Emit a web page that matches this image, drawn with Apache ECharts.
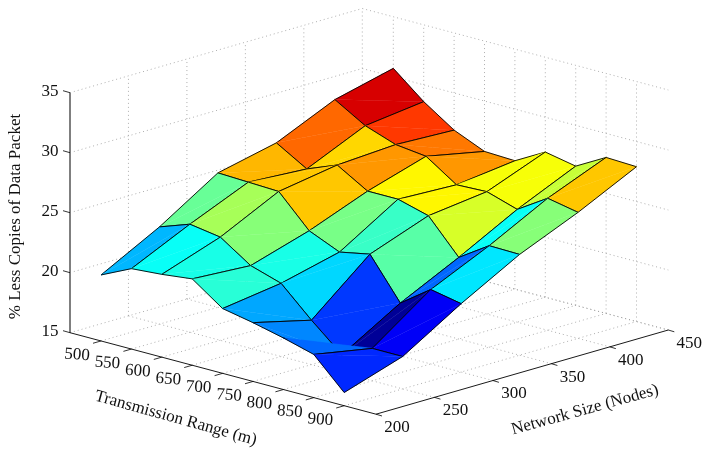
<!DOCTYPE html>
<html>
<head>
<meta charset="utf-8">
<style>html,body{margin:0;padding:0;background:#fff;overflow:hidden}#c{width:715px;height:452px}</style>
<script src="https://cdn.jsdelivr.net/npm/echarts@6/dist/echarts.min.js"></script>
</head>
<body>
<div id="c"></div>
<script>
// ---- data ----
const transmissionRange = [500, 550, 600, 650, 700, 750, 800, 850, 900];
const networkSize = [200, 250, 300, 350, 400, 450];
const zTicks = [15, 20, 25, 30, 35];
const nodes200 = [20.5, 21.7, 21.9, 22.2, 20.4, 19.9, 19.3, 18.6, 16.1];
const nodes250 = [23.1, 24.0, 23.6, 21.9, 21.1, 18.7, 16.5, 17.7, 17.7];
const nodes300 = [26.2, 26.1, 26.0, 23.4, 22.3, 22.8, 19.4, 21.2, 20.7];
const nodes350 = [27.3, 25.8, 26.8, 25.3, 25.3, 24.6, 21.8, 23.45, 23.4];
const nodes400 = [29.5, 28.0, 27.1, 26.8, 25.1, 25.2, 24.4, 26.0, 25.5];
const nodes450 = [30.7, 28.6, 26.9, 25.8, 25.7, 27.1, 26.6, 28.0, 27.9];
const xTitle = 'Transmission Range (m)';
const yTitle = 'Network Size (Nodes)';
const zTitle = '% Less Copies of Data Packet';

// ---- view: orthographic projection of the 3D box ----
const zRows = [nodes200, nodes250, nodes300, nodes350, nodes400, nodes450];
const box = {xMin: 449, xMax: 952.3, yMin: 200, yMax: 450, zMin: 15, zMax: 35};
const cornerLeft = [70, 332.7], cornerFront = [376, 414.2], cornerRight = [668.3, 330], zPxPerUnit = 12;
function project(x, y, z) {
  const u = (x - box.xMin) / (box.xMax - box.xMin), v = (y - box.yMin) / (box.yMax - box.yMin);
  return [
    cornerLeft[0] + u * (cornerFront[0] - cornerLeft[0]) + v * (cornerRight[0] - cornerFront[0]),
    cornerLeft[1] + u * (cornerFront[1] - cornerLeft[1]) + v * (cornerRight[1] - cornerFront[1]) - (z - box.zMin) * zPxPerUnit
  ];
}
// ---- jet colormap, 64 levels ----
const allZ = zRows.flat(), cMin = Math.min(...allZ), cMax = Math.max(...allZ);
function jet(z) {
  let t = (z - cMin) / (cMax - cMin);
  t = (Math.min(63, Math.floor(t * 64)) + 0.5) / 64;
  const ramp = (p) => Math.max(0, Math.min(1, 1.5 - Math.abs(4 * t - p)));
  return `rgb(${Math.round(255 * ramp(3))},${Math.round(255 * ramp(2))},${Math.round(255 * ramp(1))})`;
}
// ---- segments for grid and axes ----
const gridSegs = [], xT = transmissionRange, yT = networkSize, b = box;
xT.forEach(x => {
  gridSegs.push([x, b.yMin, b.zMin, x, b.yMax, b.zMin]);
  gridSegs.push([x, b.yMax, b.zMin, x, b.yMax, b.zMax]);
});
yT.forEach(y => {
  if (y !== b.yMin) gridSegs.push([b.xMin, y, b.zMin, b.xMax, y, b.zMin]);
  if (y !== b.yMin) gridSegs.push([b.xMin, y, b.zMin, b.xMin, y, b.zMax]);
});
zTicks.forEach(z => {
  gridSegs.push([b.xMin, b.yMin, z, b.xMin, b.yMax, z]);
  gridSegs.push([b.xMin, b.yMax, z, b.xMax, b.yMax, z]);
});
const faces = [];
for (let j = networkSize.length - 2; j >= 0; j--)
  for (let i = 0; i < transmissionRange.length - 1; i++) faces.push([i, j]);

const pt = (api, i, j) => api.coord(project(transmissionRange[i], networkSize[j], zRows[j][i]));
const edgeStyle = {stroke: '#000', lineWidth: 0.9, fill: null};
function renderFace(params, api) {
  const i = api.value(0), j = api.value(1);
  const a = pt(api, i, j), c = pt(api, i + 1, j), d = pt(api, i + 1, j + 1), e = pt(api, i, j + 1);
  const col = jet(zRows[j][i]);
  const fillStyle = {fill: col, stroke: col, lineWidth: 0.4};
  return {type: 'group', children: [
    {type: 'polygon', shape: {points: [a, d, e]}, style: fillStyle},
    {type: 'polyline', shape: {points: [d, e, a]}, style: edgeStyle},
    {type: 'polygon', shape: {points: [a, c, d]}, style: fillStyle},
    {type: 'polyline', shape: {points: [a, c, d]}, style: edgeStyle}
  ]};
}
function renderSeg(style) {
  return (params, api) => {
    const p = api.coord(project(api.value(0), api.value(1), api.value(2)));
    const q = api.coord(project(api.value(3), api.value(4), api.value(5)));
    return {type: 'line', shape: {x1: p[0], y1: p[1], x2: q[0], y2: q[1]}, style};
  };
}
const font = '"Liberation Serif", "Times New Roman", serif';
const tickFont = 17;
function renderTick(params, api) {
  const p = api.coord(project(api.value(0), api.value(1), api.value(2)));
  const kind = api.value(3);
  const mark = [[-8, 2.3], [6, 1.8], [-7, -2]][kind];
  const off = [[-24, 14], [21, 13.5], [-20, -1]][kind];
  const tilt = [-4, 0, 0][kind];
  return {type: 'group', children: [
    {type: 'line', shape: {x1: p[0], y1: p[1], x2: p[0] + mark[0], y2: p[1] + mark[1]}, style: {stroke: '#000', lineWidth: 0.8}},
    {type: 'text', x: p[0] + off[0], y: p[1] + off[1], rotation: tilt * Math.PI / 180,
     style: {text: String(tickData[params.dataIndex][4]), font: tickFont + 'px ' + font, fill: '#111', align: 'center', verticalAlign: 'middle'}}
  ]};
}
const tickData = [];
xT.forEach(x => tickData.push([x, b.yMin, b.zMin, 0, x]));
yT.forEach(y => tickData.push([b.xMax, y, b.zMin, 1, y]));
zTicks.forEach(z => tickData.push([b.xMin, b.yMin, z, 2, z]));

const titleData = [
  {text: xTitle, at: [175.8, 418.3], angle: -15.5},
  {text: yTitle, at: [585, 410], angle: 15.5},
  {text: zTitle, at: [16, 216.5], angle: 90}
];
function renderTitle(params, api) {
  const t = titleData[params.dataIndex], p = api.coord(t.at);
  return {type: 'text', x: p[0], y: p[1], rotation: t.angle * Math.PI / 180,
    style: {text: t.text, font: '17px ' + font, fill: '#111', align: 'center', verticalAlign: 'middle'}};
}
const chart = echarts.init(document.getElementById('c'));
chart.setOption({
  animation: false,
  backgroundColor: '#fff',
  grid: {left: 0, right: 0, top: 0, bottom: 0},
  xAxis: {type: 'value', min: 0, max: 715, show: false},
  yAxis: {type: 'value', min: 0, max: 452, inverse: true, show: false},
  series: [
    {type: 'custom', name: 'grid', coordinateSystem: 'cartesian2d', clip: false, silent: true, data: gridSegs,
     renderItem: renderSeg({stroke: '#9a9a9a', lineWidth: 0.8, lineDash: [1, 3]})},
    {type: 'custom', name: 'zAxis', coordinateSystem: 'cartesian2d', clip: false, silent: true,
     data: [[b.xMin, b.yMin, b.zMin, b.xMin, b.yMin, b.zMax]],
     renderItem: renderSeg({stroke: '#7f7f7f', lineWidth: 2})},
    {type: 'custom', name: 'floorAxes', coordinateSystem: 'cartesian2d', clip: false, silent: true,
     data: [[b.xMin, b.yMin, b.zMin, b.xMax, b.yMin, b.zMin], [b.xMax, b.yMin, b.zMin, b.xMax, b.yMax, b.zMin]],
     renderItem: renderSeg({stroke: '#000', lineWidth: 0.9})},
    {type: 'custom', name: 'ticks', coordinateSystem: 'cartesian2d', clip: false, silent: true, data: tickData.map(d => d.slice(0, 4)),
     renderItem: renderTick},
    {type: 'custom', name: 'titles', coordinateSystem: 'cartesian2d', clip: false, silent: true, data: titleData.map(t => t.at),
     renderItem: renderTitle},
    {type: 'custom', name: 'surface', coordinateSystem: 'cartesian2d', clip: false, silent: true, data: faces,
     renderItem: renderFace}
  ]
});
</script>
</body>
</html>
